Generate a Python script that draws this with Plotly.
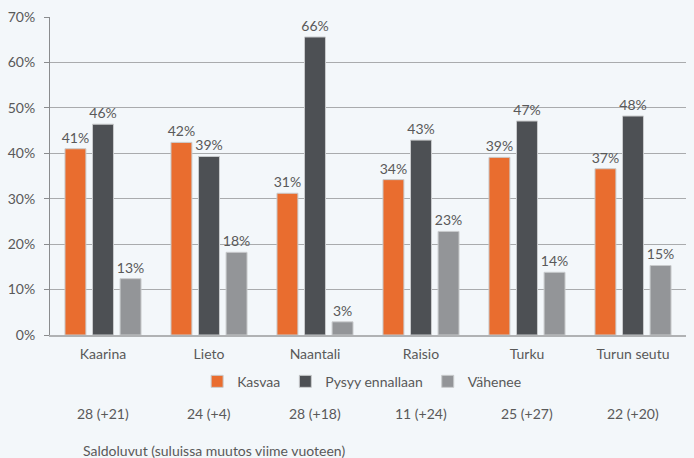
import plotly.graph_objects as go

categories = ["Kaarina", "Lieto", "Naantali", "Raisio", "Turku", "Turun seutu"]
kasvaa = [41.0, 42.4, 31.2, 34.2, 39.1, 36.6]
pysyy = [46.4, 39.3, 65.6, 42.9, 47.1, 48.2]
vahenee = [12.4, 18.2, 2.9, 22.8, 13.8, 15.3]
kasvaa_lbl = ["41%", "42%", "31%", "34%", "39%", "37%"]
pysyy_lbl = ["46%", "39%", "66%", "43%", "47%", "48%"]
vahenee_lbl = ["13%", "18%", "3%", "23%", "14%", "15%"]
saldo = ["28 (+21)", "24 (+4)", "28 (+18)", "11 (+24)", "25 (+27)", "22 (+20)"]
yticks = [0, 10, 20, 30, 40, 50, 60, 70]

FONT = "Lato"
TXT = "#595959"
series = [
    ("Kasvaa", kasvaa, kasvaa_lbl, "#E96D2F"),
    ("Pysyy ennallaan", pysyy, pysyy_lbl, "#4D5054"),
    ("Vähenee", vahenee, vahenee_lbl, "#939598"),
]

fig = go.Figure()
for name, vals, lbls, col in series:
    fig.add_trace(go.Bar(
        x=categories, y=vals, name=name, text=lbls,
        textposition="outside", cliponaxis=False, constraintext="none",
        textfont=dict(family=FONT, size=14, color=TXT),
        marker=dict(color=col, line=dict(color="#c9cbcd", width=1)),
    ))

for c, s in zip(categories, saldo):
    fig.add_annotation(x=c, xref="x", y=-0.247, yref="paper", text=s,
                       showarrow=False, yanchor="middle",
                       font=dict(family=FONT, size=14, color=TXT))
fig.add_annotation(x=0.049, xref="paper", y=-0.3625, yref="paper",
                   text="Saldoluvut (suluissa muutos viime vuoteen)",
                   showarrow=False, xanchor="left", yanchor="middle",
                   font=dict(family=FONT, size=14, color=TXT))

fig.update_layout(
    width=694, height=458,
    margin=dict(l=50, r=8, t=15, b=123),
    paper_bgcolor="#F3F7FA", plot_bgcolor="#F3F7FA",
    barmode="group", bargap=0.22, bargroupgap=0.24,
    font=dict(family=FONT, size=14, color=TXT),
    showlegend=True,
    legend=dict(orientation="h", x=0.49, xanchor="center", y=-0.147, yanchor="middle",
                font=dict(family=FONT, size=14, color=TXT),
                itemwidth=30, traceorder="normal", bgcolor="rgba(0,0,0,0)"),
)
fig.update_xaxes(showline=True, linecolor="#B0B2B4", linewidth=2,
                 ticks="", ticklabelstandoff=5,
                 tickfont=dict(family=FONT, size=14, color=TXT))
fig.update_yaxes(range=[0, 70], tickvals=yticks,
                 ticktext=[f"{v}%" for v in yticks],
                 showgrid=True, gridcolor="#A9ABAD", gridwidth=1,
                 showline=True, linecolor="#8A8C8E", linewidth=1,
                 ticks="outside", ticklen=5, tickcolor="#8A8C8E",
                 ticklabelstandoff=6,
                 zeroline=False,
                 tickfont=dict(family=FONT, size=14, color=TXT))

fig.write_html("out.html", config={"displayModeBar": False},
               post_script="document.body.style.margin='0';document.body.style.overflow='hidden';")
